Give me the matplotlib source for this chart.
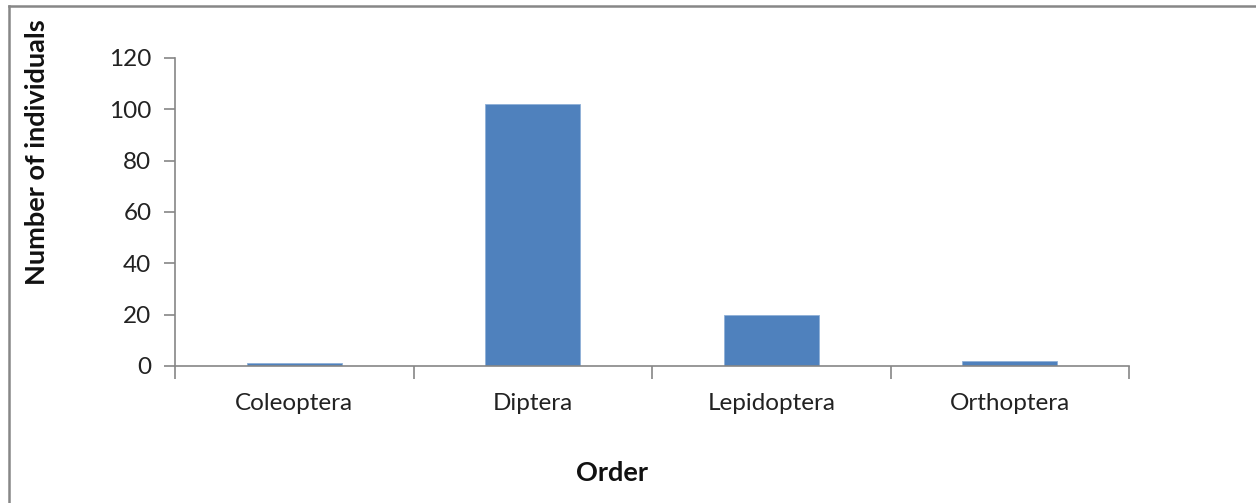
import matplotlib
matplotlib.use("Agg")
import matplotlib.pyplot as plt
from matplotlib.lines import Line2D

orders = ["Coleoptera", "Diptera", "Lepidoptera", "Orthoptera"]
individuals = [1, 102, 20, 2]
y_ticks = [0, 20, 40, 60, 80, 100, 120]

plt.rcParams["font.family"] = ["Lato", "DejaVu Sans"]

W, H = 1256, 503
fig = plt.figure(figsize=(W / 100, H / 100), dpi=100)
ax = fig.add_axes([175 / W, 1 - 366 / H, (1129 - 175) / W, (366 - 58) / H])

axis_grey = "#868686"
ax.bar(range(len(orders)), individuals, width=0.4, color="#4f81bd",
       edgecolor="#8fb0d8", linewidth=0.6, zorder=2)

ax.set_xlim(-0.5, len(orders) - 0.5)
ax.set_ylim(0, 120)
ax.set_yticks(y_ticks)
ax.set_yticklabels([str(v) for v in y_ticks])

# category labels sit between boundary ticks
ax.set_xticks([i - 0.5 for i in range(len(orders) + 1)])
ax.set_xticklabels([])
ax.set_xticks(range(len(orders)), minor=True)
ax.set_xticklabels(orders, minor=True)
ax.tick_params(axis="x", which="major", direction="out", length=9,
               color=axis_grey, width=1.2)
ax.tick_params(axis="x", which="minor", length=0, pad=19.5, labelsize=17.5,
               labelcolor="#222222")
ax.tick_params(axis="y", direction="out", length=8, color=axis_grey,
               width=1.2, pad=9, labelsize=17.5, labelcolor="#222222")

for side in ("top", "right"):
    ax.spines[side].set_visible(False)
for side in ("left", "bottom"):
    ax.spines[side].set_color(axis_grey)
    ax.spines[side].set_linewidth(1.2)

fig.text(37 / W, 1 - 152 / H, "Number of individuals", rotation=90,
         ha="center", va="center", fontsize=19.5, fontweight="bold",
         color="#111111")
fig.text(612 / W, 1 - 473 / H, "Order", ha="center", va="center",
         fontsize=19.5, fontweight="bold", color="#111111")

# outer chart frame (top and left edges)
fig.add_artist(Line2D([9 / W, 1], [1 - 6 / H, 1 - 6 / H],
                      transform=fig.transFigure, color="#878787", lw=1.8))
fig.add_artist(Line2D([9 / W, 9 / W], [0, 1 - 6 / H],
                      transform=fig.transFigure, color="#878787", lw=1.8))

fig.savefig("out.png", dpi=100)
